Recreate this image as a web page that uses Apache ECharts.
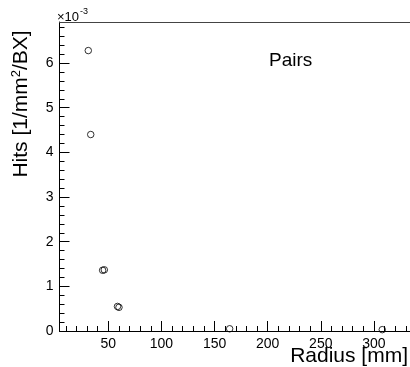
<!DOCTYPE html>
<html><head><meta charset="utf-8">
<script src="https://cdn.jsdelivr.net/npm/echarts@6/dist/echarts.min.js"></script>
<style>html,body{margin:0;padding:0;background:#fff}#c{width:410px;height:367px}</style>
</head><body><div id="c"></div>
<script>
// Data (hits in units of 1e-3 per mm^2 per BX)
var radius = [31.1, 33.4, 44.6, 46.2, 58.6, 60.0, 164.2, 307.9];
var hits   = [6.28, 4.40, 1.36, 1.37, 0.55, 0.53, 0.05, 0.03];
var xMajor = [50, 100, 150, 200, 250, 300];
var xMinor = [10, 20, 30, 40, 60, 70, 80, 90, 110, 120, 130, 140, 160, 170, 180, 190, 210, 220, 230, 240, 260, 270, 280, 290, 310, 320, 330];
var yMajor = [0, 1, 2, 3, 4, 5, 6];
var yMinor = [0.2, 0.4, 0.6, 0.8, 1.2, 1.4, 1.6, 1.8, 2.2, 2.4, 2.6, 2.8, 3.2, 3.4, 3.6, 3.8, 4.2, 4.4, 4.6, 4.8, 5.2, 5.4, 5.6, 5.8, 6.2, 6.4, 6.6, 6.8];
var X_MIN = 4, X_MAX = 334, Y_MIN = 0, Y_MAX = 6.92;

var font = 'Liberation Sans, Arial, Helvetica, sans-serif';
var chart = echarts.init(document.getElementById('c'), null, {renderer: 'canvas'});
function axisBase(extra) {
  return Object.assign({type: 'value', splitLine: {show: false}, minorTick: {show: false}}, extra);
}
chart.setOption({
  animation: false,
  backgroundColor: '#fff',
  grid: {left: 59.5, right: 0, top: 22, bottom: 36, containLabel: false},
  xAxis: [
    axisBase({min: X_MIN, max: X_MAX, position: 'bottom',
      axisLine: {show: true, lineStyle: {color: '#000', width: 1}},
      axisTick: {show: true, inside: true, length: 10, customValues: xMajor, lineStyle: {color: '#000'}},
      axisLabel: {show: true, customValues: xMajor, color: '#000', fontSize: 14, fontFamily: font, margin: 6}
    }),
    axisBase({min: X_MIN, max: X_MAX, position: 'bottom',
      axisLine: {show: false},
      axisTick: {show: true, inside: true, length: 5, customValues: xMinor, lineStyle: {color: '#000'}},
      axisLabel: {show: false}
    }),
    axisBase({min: X_MIN, max: X_MAX, position: 'top',
      axisLine: {show: true, lineStyle: {color: '#444', width: 1}},
      axisTick: {show: false}, axisLabel: {show: false}
    })
  ],
  yAxis: [
    axisBase({min: Y_MIN, max: Y_MAX, position: 'left',
      axisLine: {show: true, lineStyle: {color: '#000', width: 1}},
      axisTick: {show: true, inside: true, length: 10, customValues: yMajor, lineStyle: {color: '#000'}},
      axisLabel: {show: true, customValues: yMajor, color: '#000', fontSize: 14, fontFamily: font, margin: 6}
    }),
    axisBase({min: Y_MIN, max: Y_MAX, position: 'left',
      axisLine: {show: false},
      axisTick: {show: true, inside: true, length: 5, customValues: yMinor, lineStyle: {color: '#000'}},
      axisLabel: {show: false}
    })
  ],
  series: [{
    type: 'scatter', xAxisIndex: 0, yAxisIndex: 0,
    data: radius.map(function (r, i) { return [r, hits[i]]; }),
    symbol: 'circle', symbolSize: 6.5,
    itemStyle: {color: 'rgba(0,0,0,0)', borderColor: '#000', borderWidth: 1}
  }],
  graphic: [
    {type: 'text', x: 21, y: 104, rotation: Math.PI / 2,
      style: {text: 'Hits [1/mm{s|2}/BX]', fontSize: 21, fontFamily: font, fill: '#000', align: 'center', verticalAlign: 'middle',
        rich: {s: {fontSize: 13, fontFamily: font, verticalAlign: 'top', padding: [0, 0, 9, 0]}}}},
    {type: 'text', x: 408, y: 356,
      style: {text: 'Radius [mm]', fontSize: 21, fontFamily: font, fill: '#000', align: 'right', verticalAlign: 'middle'}},
    {type: 'text', x: 269, y: 61,
      style: {text: 'Pairs', fontSize: 19, fontFamily: font, fill: '#000', align: 'left', verticalAlign: 'middle'}},
    {type: 'text', x: 57, y: 17,
      style: {text: '\u00D710', fontSize: 13, fontFamily: font, fill: '#000', align: 'left', verticalAlign: 'middle'}},
    {type: 'text', x: 80, y: 12,
      style: {text: '-3', fontSize: 9, fontFamily: font, fill: '#000', align: 'left', verticalAlign: 'middle'}}
  ]
});
</script></body></html>
